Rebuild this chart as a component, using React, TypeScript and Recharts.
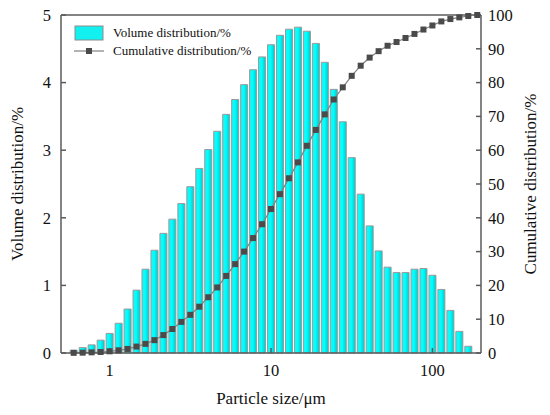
import {
  Bar,
  ComposedChart,
  Label,
  Legend,
  Line,
  ReferenceLine,
  XAxis,
  YAxis,
} from "recharts";

const FONT = "'Liberation Serif', 'Times New Roman', serif";

// particle size classes, µm (log-spaced bins)
const particleSizes = [
  0.599, 0.681, 0.774, 0.88, 1.0, 1.137, 1.292, 1.468, 1.668, 1.896, 2.154,
  2.448, 2.783, 3.162, 3.594, 4.084, 4.642, 5.275, 5.995, 6.813, 7.743, 8.799,
  10.0, 11.36, 12.92, 14.68, 16.68, 18.96, 21.54, 24.48, 27.83, 31.62, 35.94,
  40.84, 46.42, 52.75, 59.95, 68.13, 77.43, 87.99, 100.0, 113.6, 129.2, 146.8,
  166.8, 189.6,
];

// volume distribution, %
const volumeDistribution = [
  0.04, 0.08, 0.12, 0.19, 0.29, 0.44, 0.65, 0.93, 1.24, 1.52, 1.77, 1.98, 2.21,
  2.46, 2.73, 3.01, 3.28, 3.53, 3.75, 3.97, 4.19, 4.38, 4.56, 4.7, 4.79, 4.82,
  4.76, 4.58, 4.3, 3.9, 3.42, 2.89, 2.35, 1.88, 1.51, 1.27, 1.19, 1.19, 1.24,
  1.25, 1.15, 0.94, 0.63, 0.32, 0.1,
];

// cumulative distribution, %
const cumulativeDistribution = [
  0.05, 0.1, 0.2, 0.3, 0.5, 0.8, 1.2, 1.9, 2.7, 3.8, 5.3, 7.1, 9.2, 11.3, 13.7,
  16.5, 19.4, 22.8, 26.3, 30.0, 34.0, 38.1, 42.6, 47.0, 51.7, 56.4, 61.3, 66.0,
  70.6, 75.0, 78.6, 82.0, 85.0, 87.4, 89.3, 90.9, 92.0, 93.2, 94.4, 95.7, 96.9,
  98.1, 98.8, 99.3, 99.7, 100.0,
];

const sizeTicks = [1, 10, 100];
const volumeTicks = [0, 1, 2, 3, 4, 5];
const cumulativeTicks = [0, 10, 20, 30, 40, 50, 60, 70, 80, 90, 100];

const data = particleSizes.map((size, i) => ({
  size,
  volume: volumeDistribution[i] ?? null,
  cumulative: cumulativeDistribution[i],
}));

const AXIS = "#5a5a5a";
const tickStyle = { fill: "#111", fontSize: 16.5, fontFamily: FONT };
const labelStyle = { fill: "#111", fontSize: 17, fontFamily: FONT };

function SquareDot({ cx, cy }: { cx?: number; cy?: number }) {
  if (cx == null || cy == null) return null;
  return <rect x={cx - 3} y={cy - 3} width={6} height={6} fill="#4a4a4a" />;
}

function ChartLegend() {
  return (
    <div style={{ fontFamily: FONT, fontSize: 13, color: "#111" }}>
      <div style={{ display: "flex", alignItems: "center", height: 18 }}>
        <svg width={30} height={16} style={{ marginRight: 9 }}>
          <rect x={1} y={1} width={28} height={14} fill="#12f0f0" stroke="#8c8c8c" />
        </svg>
        Volume distribution/%
      </div>
      <div style={{ display: "flex", alignItems: "center", height: 18 }}>
        <svg width={30} height={16} style={{ marginRight: 9 }}>
          <line x1={0} y1={8} x2={30} y2={8} stroke="#808080" strokeWidth={1.2} />
          <rect x={12} y={5} width={6} height={6} fill="#4a4a4a" />
        </svg>
        Cumulative distribution/%
      </div>
    </div>
  );
}

export default function App() {
  return (
    <div style={{ position: "absolute", left: 0, top: 0, background: "#fff" }}>
      <ComposedChart
        width={550}
        height={415}
        data={data}
        margin={{ top: 15, right: 0, bottom: 0, left: 0 }}
      >
        <defs>
          <linearGradient id="barFill" x1="0" y1="0" x2="1" y2="0">
            <stop offset="0%" stopColor="#22f2f2" />
            <stop offset="45%" stopColor="#00ffff" />
            <stop offset="100%" stopColor="#00c8c8" />
          </linearGradient>
        </defs>
        <XAxis
          dataKey="size"
          type="number"
          scale="log"
          domain={[0.5, 200]}
          ticks={sizeTicks}
          allowDataOverflow
          height={62}
          stroke={AXIS}
          strokeWidth={1.5}
          tickSize={-5}
          tickMargin={16}
          tick={tickStyle}
        >
          <Label value="Particle size/μm" position="center" dy={14} style={labelStyle} />
        </XAxis>
        <YAxis
          yAxisId="vol"
          domain={[0, 5]}
          ticks={volumeTicks}
          width={61}
          stroke={AXIS}
          strokeWidth={1.5}
          tickSize={-5}
          tickMargin={15}
          tick={tickStyle}
        >
          <Label
            value="Volume distribution/%"
            angle={-90}
            position="center"
            dx={-14}
            style={labelStyle}
          />
        </YAxis>
        <YAxis
          yAxisId="cum"
          orientation="right"
          domain={[0, 100]}
          ticks={cumulativeTicks}
          width={69}
          stroke={AXIS}
          strokeWidth={1.5}
          tickSize={-5}
          tickMargin={12}
          tick={tickStyle}
        >
          <Label
            value="Cumulative distribution/%"
            angle={-90}
            position="center"
            dx={14}
            style={labelStyle}
          />
        </YAxis>
        <ReferenceLine yAxisId="vol" y={5} stroke={AXIS} strokeWidth={1.5} />
        <Bar
          yAxisId="vol"
          dataKey="volume"
          barSize={7}
          fill="url(#barFill)"
          stroke="#9a9a9a"
          strokeWidth={1}
          isAnimationActive={false}
        />
        <Line
          yAxisId="cum"
          dataKey="cumulative"
          stroke="#808080"
          strokeWidth={1.2}
          dot={<SquareDot />}
          activeDot={false}
          isAnimationActive={false}
        />
        <Legend
          layout="vertical"
          align="center"
          verticalAlign="middle"
          wrapperStyle={{ top: 24, left: 74, width: "auto" }}
          content={<ChartLegend />}
        />
      </ComposedChart>
    </div>
  );
}
